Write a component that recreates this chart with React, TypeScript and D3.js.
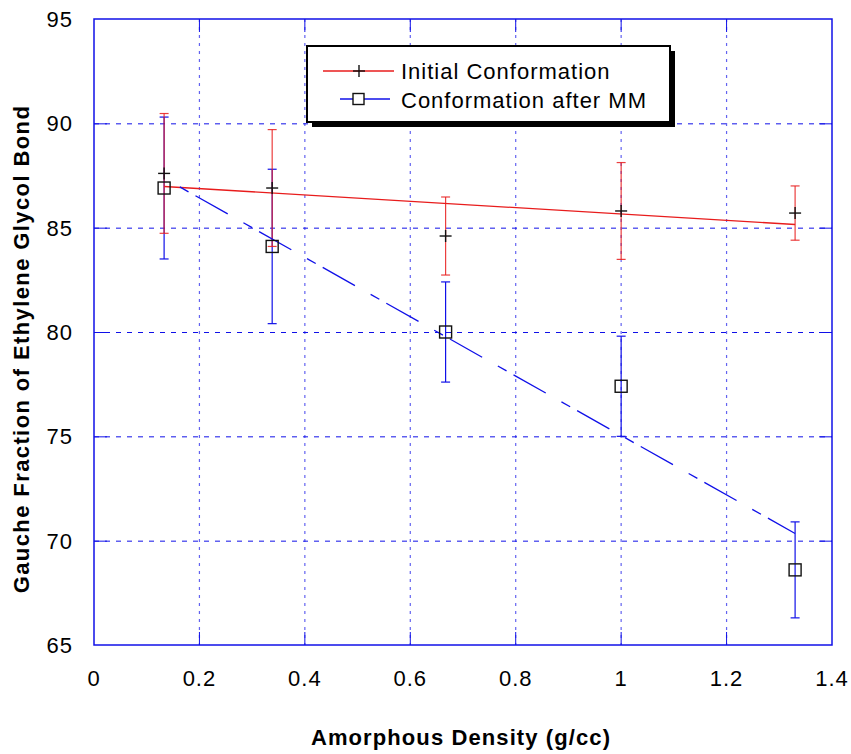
import React from "react";
import * as d3 from "d3";

const densities = [0.133, 0.338, 0.667, 1.0, 1.33];
const initialMean = [87.6, 86.9, 84.6, 85.8, 85.7];
const initialErr = [2.87, 2.8, 1.87, 2.32, 1.3];
const mmMean = [86.9, 84.1, 80.0, 77.4, 68.6];
const mmErr = [3.4, 3.7, 2.4, 2.4, 2.3];

const xTicks = [0, 0.2, 0.4, 0.6, 0.8, 1, 1.2, 1.4];
const yTicks = [65, 70, 75, 80, 85, 90, 95];
const legendLabels = ["Initial Conformation", "Conformation after MM"];
const xTitle = "Amorphous Density (g/cc)";
const yTitle = "Gauche Fraction of Ethylene Glycol Bond";

const W = 851;
const H = 754;
const L = 94, R = 832, T = 19, B = 645;
const FONT = "'Liberation Sans', Arial, Helvetica, sans-serif";
const RED = "#e81c1c";
const BLUE = "#1010e8";

function fit(xs: number[], ys: number[]) {
  const mx = d3.mean(xs) as number;
  const my = d3.mean(ys) as number;
  const sxy = d3.sum(xs.map((x, i) => (x - mx) * (ys[i] - my)));
  const sxx = d3.sum(xs.map((x) => (x - mx) * (x - mx)));
  const slope = sxy / sxx;
  return (x: number) => my + slope * (x - mx);
}

export default function App() {
  const x = d3.scaleLinear().domain([0, 1.4]).range([L, R]);
  const y = d3.scaleLinear().domain([65, 95]).range([B, T]);
  const fInit = fit(densities, initialMean);
  const fMM = fit(densities, mmMean);
  const x0 = densities[0];
  const x1 = densities[densities.length - 1];
  const line = d3.line<[number, number]>().x((d) => x(d[0])).y((d) => y(d[1]));
  const cap = 4.5;
  const fmtX = (v: number) => (v === 0 ? "0" : v === 1 ? "1" : String(v));

  return (
    <svg width={W} height={H} style={{ position: "absolute", left: 0, top: 0, background: "#fff" }} fontFamily={FONT}>
      <rect x={0} y={0} width={W} height={H} fill="#fff" />
      {/* grid */}
      {yTicks.filter((v) => v > 65 && v < 95).map((v) => (
        <g key={"gy" + v}>
          <line x1={L} x2={R} y1={y(v) + 0.5} y2={y(v) + 0.5} stroke={BLUE} strokeWidth={1} strokeDasharray="5,6" />
          <line x1={L} x2={L + 13} y1={y(v) + 0.5} y2={y(v) + 0.5} stroke={BLUE} strokeWidth={1} />
          <line x1={R - 13} x2={R} y1={y(v) + 0.5} y2={y(v) + 0.5} stroke={BLUE} strokeWidth={1} />
        </g>
      ))}
      {xTicks.filter((v) => v > 0 && v < 1.4).map((v) => (
        <g key={"gx" + v}>
          <line x1={x(v)} x2={x(v)} y1={T} y2={B} stroke={BLUE} strokeOpacity={0.65} strokeWidth={1.2} strokeDasharray="3,5" />
          <line x1={x(v)} x2={x(v)} y1={B - 13} y2={B} stroke={BLUE} strokeWidth={1} />
          <line x1={x(v)} x2={x(v)} y1={T} y2={T + 13} stroke={BLUE} strokeWidth={1} />
        </g>
      ))}
      {/* frame */}
      <rect x={L} y={T} width={R - L} height={B - T} fill="none" stroke={BLUE} strokeWidth={1.5} />

      {/* error bars MM */}
      {densities.map((d, i) => (
        <g key={"eb" + i} stroke={BLUE} strokeWidth={1.2}>
          <line x1={x(d)} x2={x(d)} y1={y(mmMean[i] + mmErr[i])} y2={y(mmMean[i] - mmErr[i])} />
          <line x1={x(d) - cap} x2={x(d) + cap} y1={y(mmMean[i] + mmErr[i])} y2={y(mmMean[i] + mmErr[i])} />
          <line x1={x(d) - cap} x2={x(d) + cap} y1={y(mmMean[i] - mmErr[i])} y2={y(mmMean[i] - mmErr[i])} />
        </g>
      ))}
      {/* error bars initial */}
      {densities.map((d, i) => (
        <g key={"er" + i} stroke={RED} strokeWidth={1.2} strokeOpacity={0.85}>
          <line x1={x(d)} x2={x(d)} y1={y(initialMean[i] + initialErr[i])} y2={y(initialMean[i] - initialErr[i])} />
          <line x1={x(d) - cap} x2={x(d) + cap} y1={y(initialMean[i] + initialErr[i])} y2={y(initialMean[i] + initialErr[i])} />
          <line x1={x(d) - cap} x2={x(d) + cap} y1={y(initialMean[i] - initialErr[i])} y2={y(initialMean[i] - initialErr[i])} />
        </g>
      ))}
      {/* fit lines */}
      <path d={line([[x0, fInit(x0)], [x1, fInit(x1)]]) || ""} stroke={RED} strokeWidth={1.3} fill="none" />
      <path d={line([[x0, fMM(x0)], [x1, fMM(x1)]]) || ""} stroke={BLUE} strokeWidth={1.3} fill="none" strokeDasharray="37,18,10,8" strokeDashoffset={37} />

      {/* markers */}
      {densities.map((d, i) => (
        <g key={"pm" + i} stroke="#111" strokeWidth={1.4}>
          <line x1={x(d) - 6} x2={x(d) + 6} y1={y(initialMean[i])} y2={y(initialMean[i])} />
          <line x1={x(d)} x2={x(d)} y1={y(initialMean[i]) - 6} y2={y(initialMean[i]) + 6} />
        </g>
      ))}
      {densities.map((d, i) => (
        <rect key={"sq" + i} x={x(d) - 6} y={y(mmMean[i]) - 6} width={12} height={12} fill="none" stroke="#111" strokeWidth={1.4} />
      ))}

      {/* tick labels */}
      {yTicks.map((v) => (
        <text key={"ty" + v} x={73} y={y(v) + 8} textAnchor="end" fontSize={22} letterSpacing={1} fill="#000">{v}</text>
      ))}
      {xTicks.map((v) => (
        <text key={"tx" + v} x={x(v)} y={686} textAnchor="middle" fontSize={22} letterSpacing={1} fill="#000">{fmtX(v)}</text>
      ))}

      {/* axis titles */}
      <text x={461} y={745} textAnchor="middle" fontSize={22} fontWeight="bold" letterSpacing={1.1} fill="#000">{xTitle}</text>
      <text transform={`translate(29,349) rotate(-90)`} textAnchor="middle" fontSize={22} fontWeight="bold" letterSpacing={1.4} fill="#000">{yTitle}</text>

      {/* legend */}
      <rect x={312} y={51} width={363} height={76} fill="#000" />
      <rect x={307} y={46} width={363} height={76} fill="#fff" stroke="#000" strokeWidth={2} />
      <line x1={323} x2={394} y1={71} y2={71} stroke={RED} strokeWidth={1.3} />
      <line x1={359} x2={359} y1={65} y2={77} stroke="#111" strokeWidth={1.4} />
      <line x1={353} x2={365} y1={71} y2={71} stroke="#111" strokeWidth={1.4} />
      <text x={401} y={79} fontSize={22} letterSpacing={1} fill="#000">{legendLabels[0]}</text>
      <line x1={340} x2={390} y1={99} y2={99} stroke={BLUE} strokeWidth={1.3} />
      <rect x={353} y={93.5} width={11} height={11} fill="#fff" stroke="#111" strokeWidth={1.4} />
      <text x={401} y={108} fontSize={22} letterSpacing={1} fill="#000">{legendLabels[1]}</text>
    </svg>
  );
}
